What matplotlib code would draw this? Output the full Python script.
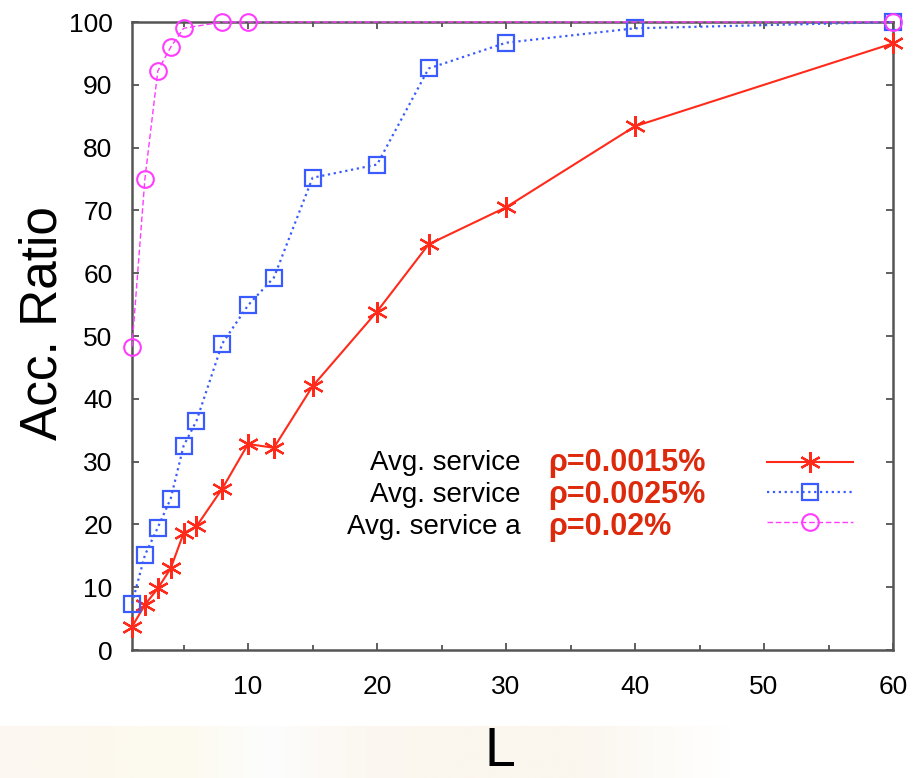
#!/usr/bin/env python3
"""Acceptance ratio vs L for three service-rate settings."""
import matplotlib.pyplot as plt
import numpy as np

# data
L_RED = [1, 2, 3, 4, 5, 6, 8, 10, 12, 15, 20, 24, 30, 40, 60]
ACC_RED = [3.7, 7.2, 9.8, 13.0, 18.6, 19.7, 25.7, 32.8, 32.2, 42.0, 53.9, 64.6, 70.5, 83.4, 96.6]
L_BLUE = [1, 2, 3, 4, 5, 6, 8, 10, 12, 15, 20, 24, 30, 40, 60]
ACC_BLUE = [7.4, 15.1, 19.5, 24.1, 32.5, 36.5, 48.8, 54.9, 59.3, 75.2, 77.3, 92.6, 96.7, 99.0, 100.0]
L_MAG = [1, 2, 3, 4, 5, 8, 10, 60]
ACC_MAG = [48.3, 75.0, 92.2, 96.0, 99.0, 100.0, 100.0, 100.0]

LABELS = ["Avg. service", "Avg. service", "Avg. service a"]
RHO = ["\u03c1=0.0015%", "\u03c1=0.0025%", "\u03c1=0.02%"]
X_TICKS = [10, 20, 30, 40, 50, 60]
Y_TICKS = [0, 10, 20, 30, 40, 50, 60, 70, 80, 90, 100]

plt.rcParams["font.family"] = ["Liberation Sans", "DejaVu Sans"]

fig = plt.figure(figsize=(9.24, 7.78), dpi=100)

# very pale beige strip behind the x label (scan artefact in the original)
band = fig.add_axes([0, 0, 1, 52 / 778])
band_cols = np.array([[
    (252, 248, 241), (252, 249, 238), (252, 250, 240), (253, 253, 253),
    (252, 248, 242), (251, 246, 238), (251, 246, 238), (251, 246, 238),
    (253, 251, 247), (255, 255, 255), (255, 255, 255), (255, 255, 255),
]]) / 255.0
band.imshow(band_cols, aspect="auto", interpolation="bilinear", extent=(0, 1, 0, 1))
band.set_axis_off()

ax = fig.add_axes([132 / 924, 128 / 778, 761 / 924, 628 / 778])

red, = ax.plot(L_RED, ACC_RED, color="#ff2a1a", lw=1.5, marker=(6, 2, 0), ms=15,
               mew=1.6, clip_on=False, zorder=3)
blue, = ax.plot(L_BLUE, ACC_BLUE, color="#3a5cff", lw=1.6, ls=":", marker="s", ms=12,
                mfc="none", mew=1.6, clip_on=False, zorder=4)
mag, = ax.plot(L_MAG, ACC_MAG, color="#ff3cff", lw=1.0, ls=(0, (4, 2)), marker="o", ms=12,
               mfc="none", mew=1.5, clip_on=False, zorder=5)

ax.set_xlim(1, 60)
ax.set_ylim(0, 100)
ax.set_xticks(X_TICKS)
ax.set_xticks([5, 15, 25, 35, 45, 55], minor=True)
ax.set_yticks(Y_TICKS)

tick_font = {"family": ["Liberation Sans"], "size": 19}
ax.set_xticklabels([str(v) for v in X_TICKS], fontdict=tick_font)
ax.set_yticklabels([str(v) for v in Y_TICKS], fontdict=tick_font)
ax.tick_params(axis="both", which="both", direction="in", top=True, right=True,
               color="#444444", width=1.2)
ax.tick_params(axis="both", which="major", length=5)
ax.tick_params(axis="both", which="minor", length=3.5)
ax.tick_params(axis="x", pad=18)
ax.tick_params(axis="y", pad=14)
for s in ax.spines.values():
    s.set_color("#555555")
    s.set_linewidth(1.8)

ax.set_ylabel("Acc. Ratio", fontsize=37, va="center")
ax.yaxis.set_label_coords(-0.117, 0.521)
ax.set_xlabel("L", fontsize=40, va="bottom")
ax.xaxis.set_label_coords(0.4836, -128 / 628)

# legend: samples on the right, black text right-aligned, red rho labels in the gap
ax.legend([red, blue, mag], ["", "", ""], loc="center", bbox_to_anchor=(0.891, 0.247),
          frameon=False, fontsize=20, handlelength=3.1, handletextpad=0,
          labelspacing=0.15, borderpad=0)
rows = [0.298, 0.247, 0.196]
for y, lab, rho in zip(rows, LABELS, RHO):
    ax.text(0.511, y, lab, transform=ax.transAxes, ha="right", va="center", fontsize=20)
    ax.text(0.547, y, rho, transform=ax.transAxes, ha="left", va="center", fontsize=22,
            fontweight="bold", color="#dd2a0c")

fig.savefig("out.png", dpi=100)
